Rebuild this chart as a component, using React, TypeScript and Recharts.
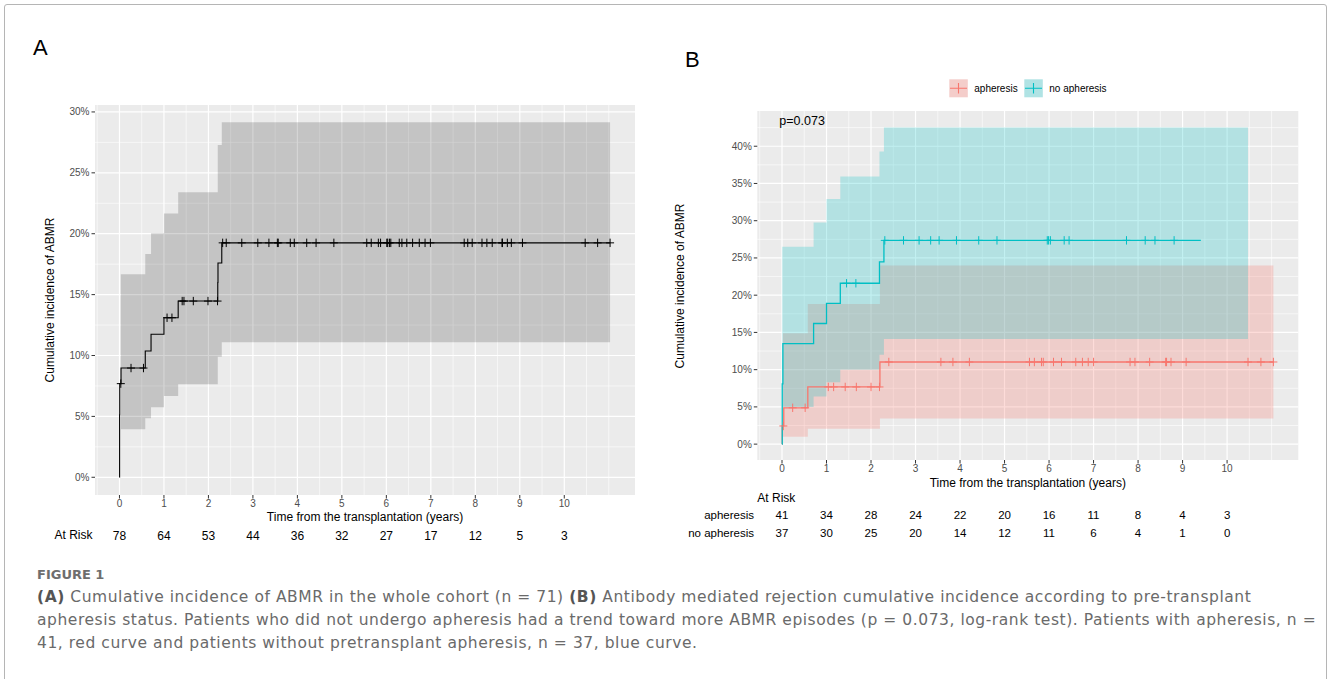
import React from 'react';
import { ComposedChart, Line, Area, Scatter, XAxis, YAxis, CartesianGrid } from 'recharts';

// shared axis ticks
const yearTicks = [0, 1, 2, 3, 4, 5, 6, 7, 8, 9, 10];
const yearMinor = [-0.5, 0.5, 1.5, 2.5, 3.5, 4.5, 5.5, 6.5, 7.5, 8.5, 9.5, 10.5, 11];

// ---- Panel A: whole cohort ----
const pctTicksA = [0, 5, 10, 15, 20, 25, 30];
const pctMinorA = [2.5, 7.5, 12.5, 17.5, 22.5, 27.5];

const cohortTimes = [0, 0.003, 0.006, 0.035, 0.58, 0.71, 1.0, 1.32, 2.21, 2.215, 2.3, 11.03];
const cohortIncidence = [0, 5.13, 7.69, 8.97, 10.37, 11.74, 13.1, 14.47, 16.0, 17.6, 19.25, 19.25];
const cohortBandTimes = [0.03, 0.58, 0.71, 1.0, 1.32, 2.21, 2.3, 11.03];
const cohortLower = [3.94, 4.84, 5.75, 6.67, 7.63, 9.9, 11.08, 11.08];
const cohortUpper = [16.67, 18.33, 20.03, 21.67, 23.4, 27.28, 29.15, 29.15];
const cohortCensored = [
  0.03, 0.26, 0.54, 1.07, 1.18, 1.41, 1.45, 1.66, 1.99, 2.205,
  2.32, 2.4, 2.75, 3.11, 3.36, 3.55, 3.57, 3.84, 3.93, 4.21, 4.42, 4.82,
  5.56, 5.66, 5.82, 5.87, 6.01, 6.03, 6.07, 6.1, 6.29, 6.35, 6.46, 6.59, 6.74, 6.87, 6.99,
  7.75, 7.83, 7.93, 8.15, 8.26, 8.38, 8.6, 8.61, 8.72, 8.81, 9.06, 10.47, 10.75, 11.03,
];
const atRiskCohort = [78, 64, 53, 44, 36, 32, 27, 17, 12, 5, 3];

// ---- Panel B: by apheresis status ----
const pctTicksB = [0, 5, 10, 15, 20, 25, 30, 35, 40];
const pctMinorB = [2.5, 7.5, 12.5, 17.5, 22.5, 27.5, 32.5, 37.5, 42.5];

const aphTimes = [0, 0.005, 0.04, 0.58, 2.2, 11.04];
const aphIncidence = [0, 2.44, 4.88, 7.68, 11.03, 11.03];
const aphBandTimes = [0.02, 0.58, 2.2, 11.04];
const aphLower = [0.99, 2.06, 3.44, 3.44];
const aphUpper = [14.9, 18.8, 24.0, 24.0];
const aphCensored = [
  0.03, 0.24, 0.52, 1.04, 1.16, 1.42, 1.67, 2.0, 2.19,
  2.4, 3.57, 3.84, 4.21, 5.56, 5.67, 5.83, 5.87, 6.1, 6.28, 6.6, 6.75, 6.88, 7.0,
  7.82, 7.93, 8.26, 8.62, 8.64, 8.74, 9.08, 10.47, 10.76, 11.04,
];

const noAphTimes = [0, 0.005, 0.02, 0.71, 1.0, 1.31, 2.19, 2.29, 9.41];
const noAphIncidence = [0, 8.1, 13.5, 16.2, 18.9, 21.6, 24.46, 27.36, 27.36];
const noAphBandTimes = [0.005, 0.71, 1.0, 1.31, 2.19, 2.29, 10.47];
const noAphLower = [5.0, 6.4, 8.3, 10.0, 12.0, 14.1, 14.1];
const noAphUpper = [26.5, 29.77, 32.9, 35.93, 39.3, 42.5, 42.5];
const noAphCensored = [
  1.45, 1.66, 2.31, 2.73, 3.08, 3.34, 3.53, 3.92, 4.42, 4.83,
  5.96, 5.99, 6.03, 6.34, 6.45, 7.74, 8.16, 8.38, 8.81,
];

const atRiskAph = [41, 34, 28, 24, 22, 20, 16, 11, 8, 4, 3];
const atRiskNoAph = [37, 30, 25, 20, 14, 12, 11, 6, 4, 1, 0];

const RED = '#F8766D';
const TEAL = '#00BFC4';
const FONT = '"Liberation Sans", Arial, Helvetica, sans-serif';

const toCurve = (ts: number[], vs: number[]) => ts.map((t, i) => ({ t, v: vs[i] }));
const toBand = (ts: number[], lo: number[], hi: number[]) => ts.map((t, i) => ({ t, range: [lo[i], hi[i]] }));

// value of a step curve at time t (last step at or before t)
function stepAt(ts: number[], vs: number[], t: number) {
  let v = vs[0];
  for (let i = 0; i < ts.length; i++) if (ts[i] <= t) v = vs[i];
  return v;
}
const toMarks = (cens: number[], ts: number[], vs: number[]) => cens.map((t) => ({ t, v: stepAt(ts, vs, t) }));

const plus = (color: string, w: number) => (p: any) => (
  <path
    d={`M${p.cx},${p.cy - 4.2}V${p.cy + 4.2}M${p.cx - 4},${p.cy}H${p.cx + 4}`}
    stroke={color}
    strokeWidth={w}
    fill="none"
  />
);

const yearTick = (rows: number[][], labelDy: number, rowDy: number[], rowSize: number) => (props: any) => {
  const { x, y, payload } = props;
  const i = yearTicks.indexOf(payload.value);
  return (
    <g>
      <text x={x} y={y + labelDy} textAnchor="middle" fontSize={10} fill="#4D4D4D" fontFamily={FONT}>
        {payload.value}
      </text>
      {rows.map((r, k) => (
        <text key={k} x={x} y={y + rowDy[k]} textAnchor="middle" fontSize={rowSize} fill="#000" fontFamily={FONT}>
          {r[i]}
        </text>
      ))}
    </g>
  );
};

const pctFmt = (v: number) => `${v}%`;

function PanelA() {
  return (
    <ComposedChart width={660} height={560} margin={{ top: 105, right: 25, left: 35, bottom: 15 }} style={{ fontFamily: FONT }}>
      <CartesianGrid fill="#EBEBEB" stroke="#FFFFFF" strokeWidth={0.6} horizontalValues={pctMinorA} verticalValues={yearMinor} />
      <CartesianGrid stroke="#FFFFFF" strokeWidth={1.2} horizontalValues={pctTicksA} verticalValues={yearTicks} />
      <XAxis
        type="number"
        dataKey="t"
        domain={[-0.55, 11.59]}
        ticks={yearTicks}
        interval={0}
        allowDataOverflow
        axisLine={false}
        tickLine={{ stroke: '#333333' }}
        tickSize={3.5}
        height={50}
        tick={yearTick([atRiskCohort], 6, [39], 12)}
      />
      <YAxis
        type="number"
        domain={[-1.455, 30.57]}
        ticks={pctTicksA}
        interval={0}
        allowDataOverflow
        axisLine={false}
        tickLine={{ stroke: '#333333' }}
        tickSize={3.5}
        width={60}
        tickFormatter={pctFmt}
        tick={{ fontSize: 10, fill: '#4D4D4D', fontFamily: FONT }}
      />
      <Area
        data={toBand(cohortBandTimes, cohortLower, cohortUpper)}
        dataKey="range"
        type="stepAfter"
        fill="#000000"
        fillOpacity={0.165}
        stroke="none"
        isAnimationActive={false}
      />
      <Line
        data={toCurve(cohortTimes, cohortIncidence)}
        dataKey="v"
        type="stepAfter"
        stroke="#000000"
        strokeWidth={1.1}
        dot={false}
        isAnimationActive={false}
      />
      <Scatter
        data={toMarks(cohortCensored, cohortTimes, cohortIncidence)}
        dataKey="v"
        shape={plus('#000000', 1)}
        isAnimationActive={false}
      />
    </ComposedChart>
  );
}

function PanelB() {
  return (
    <ComposedChart width={668} height={560} margin={{ top: 111, right: 29.7, left: 37.3, bottom: 20 }} style={{ fontFamily: FONT }}>
      <CartesianGrid fill="#EBEBEB" stroke="#FFFFFF" strokeWidth={0.6} horizontalValues={pctMinorB} verticalValues={yearMinor} />
      <CartesianGrid stroke="#FFFFFF" strokeWidth={1.2} horizontalValues={pctTicksB} verticalValues={yearTicks} />
      <XAxis
        type="number"
        dataKey="t"
        domain={[-0.555, 11.6]}
        ticks={yearTicks}
        interval={0}
        allowDataOverflow
        axisLine={false}
        tickLine={{ stroke: '#333333' }}
        tickSize={3.5}
        height={80}
        tick={yearTick([atRiskAph, atRiskNoAph], 6, [53.5, 71], 11.5)}
      />
      <YAxis
        type="number"
        domain={[-2.13, 44.73]}
        ticks={pctTicksB}
        interval={0}
        allowDataOverflow
        axisLine={false}
        tickLine={{ stroke: '#333333' }}
        tickSize={3.5}
        width={60}
        tickFormatter={pctFmt}
        tick={{ fontSize: 10, fill: '#4D4D4D', fontFamily: FONT }}
      />
      <Area
        data={toBand(aphBandTimes, aphLower, aphUpper)}
        dataKey="range"
        type="stepAfter"
        fill={RED}
        fillOpacity={0.26}
        stroke="none"
        isAnimationActive={false}
      />
      <Area
        data={toBand(noAphBandTimes, noAphLower, noAphUpper)}
        dataKey="range"
        type="stepAfter"
        fill={TEAL}
        fillOpacity={0.24}
        stroke="none"
        isAnimationActive={false}
      />
      <Line
        data={toCurve(aphTimes, aphIncidence)}
        dataKey="v"
        type="stepAfter"
        stroke={RED}
        strokeWidth={1.3}
        dot={false}
        isAnimationActive={false}
      />
      <Line
        data={toCurve(noAphTimes, noAphIncidence)}
        dataKey="v"
        type="stepAfter"
        stroke={TEAL}
        strokeWidth={1.3}
        dot={false}
        isAnimationActive={false}
      />
      <Scatter
        data={toMarks(aphCensored, aphTimes, aphIncidence)}
        dataKey="v"
        shape={plus(RED, 1)}
        isAnimationActive={false}
      />
      <Scatter
        data={toMarks(noAphCensored, noAphTimes, noAphIncidence)}
        dataKey="v"
        shape={plus(TEAL, 1)}
        isAnimationActive={false}
      />
    </ComposedChart>
  );
}

function Labels() {
  return (
    <svg width={1328} height={679} style={{ position: 'absolute', left: 0, top: 0, pointerEvents: 'none' }} fontFamily={FONT}>
      <text x={33} y={54.5} fontSize={22}>A</text>
      <text x={685} y={67} fontSize={22}>B</text>

      <text x={54} y={300} fontSize={12} textAnchor="middle" transform="rotate(-90 54 300)">Cumulative incidence of ABMR</text>
      <text x={365} y={520.5} fontSize={12} textAnchor="middle">Time from the transplantation (years)</text>
      <text x={92.5} y={539.3} fontSize={12} textAnchor="end">At Risk</text>

      <text x={684} y={286} fontSize={12} textAnchor="middle" transform="rotate(-90 684 286)">Cumulative incidence of ABMR</text>
      <text x={1027.8} y={487} fontSize={12} textAnchor="middle">Time from the transplantation (years)</text>
      <text x={757.3} y={501.5} fontSize={12}>At Risk</text>
      <text x={754} y={519} fontSize={11.5} textAnchor="end">apheresis</text>
      <text x={754} y={536.5} fontSize={11.5} textAnchor="end">no apheresis</text>
      <text x={779.3} y={124.5} fontSize={12.5}>p=0.073</text>

      <rect x={949.3} y={79.3} width={18.5} height={18} fill="#F4CDCA" />
      <path d="M950,88.3H967M958.5,83V93.6" stroke={RED} strokeWidth={1.1} fill="none" />
      <text x={974.3} y={92} fontSize={10}>apheresis</text>
      <rect x={1024.3} y={79.3} width={18.5} height={18} fill="#B0E3E4" />
      <path d="M1025,88.3H1042M1033.5,83V93.6" stroke={TEAL} strokeWidth={1.1} fill="none" />
      <text x={1049.3} y={92} fontSize={10}>no apheresis</text>
    </svg>
  );
}

const captionStyle: React.CSSProperties = {
  position: 'absolute',
  left: 37,
  fontFamily: '"DejaVu Sans", sans-serif',
  fontSize: 15.5,
  letterSpacing: 0.55,
  lineHeight: '23px',
  color: '#6A6A6A',
  whiteSpace: 'nowrap',
};

export default function App() {
  return (
    <div style={{ position: 'absolute', left: 0, top: 0, width: 1328, height: 679, background: '#fff', overflow: 'hidden' }}>
      <div style={{ position: 'absolute', left: 4, top: 4, width: 1321, height: 720, border: '1.5px solid #B5B5B5', borderRadius: 3 }} />
      <div style={{ position: 'absolute', left: 0, top: 0 }}>
        <PanelA />
      </div>
      <div style={{ position: 'absolute', left: 660, top: 0 }}>
        <PanelB />
      </div>
      <Labels />
      <div style={{ ...captionStyle, top: 566, fontSize: 13, letterSpacing: 0, lineHeight: '18px', fontWeight: 'bold', color: '#6E6E6E' }}>FIGURE 1</div>
      <div style={{ ...captionStyle, top: 585.5 }}>
        <b style={{ color: '#555' }}>(A)</b> Cumulative incidence of ABMR in the whole cohort (n = 71) <b style={{ color: '#555' }}>(B)</b> Antibody mediated rejection cumulative incidence according to pre-transplant
      </div>
      <div style={{ ...captionStyle, top: 608.5 }}>
        apheresis status. Patients who did not undergo apheresis had a trend toward more ABMR episodes (p = 0.073, log-rank test). Patients with apheresis, n =
      </div>
      <div style={{ ...captionStyle, top: 631.5 }}>
        41, red curve and patients without pretransplant apheresis, n = 37, blue curve.
      </div>
    </div>
  );
}
